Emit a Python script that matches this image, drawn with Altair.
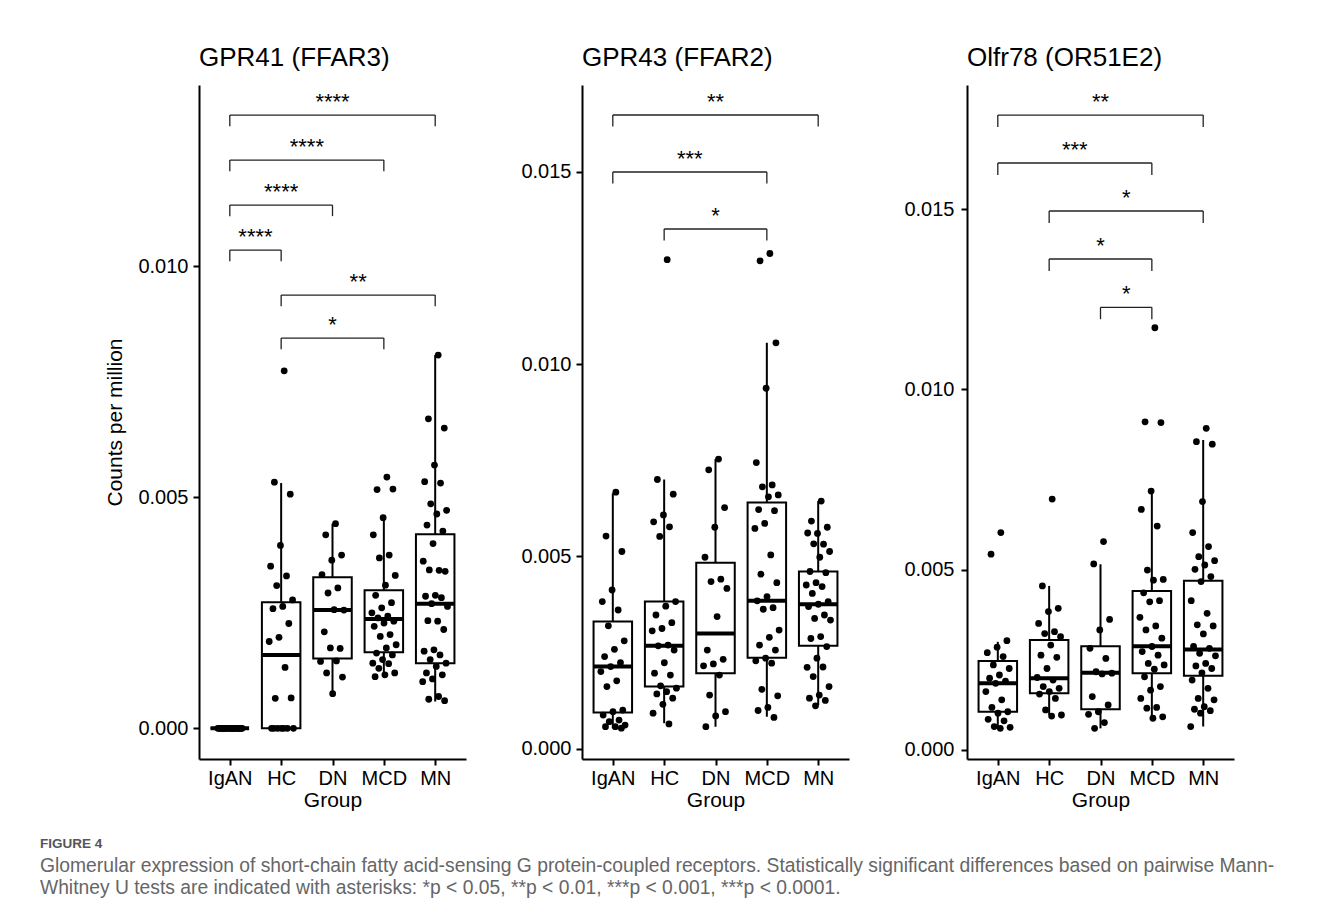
import json
import altair as alt
import pandas as pd

groups = ["IgAN", "HC", "DN", "MCD", "MN"]

# ---------------- GPR41 (FFAR3) ----------------
gpr41_IgAN = [0.0] * 24
gpr41_HC = [0.00774, 0.00533, 0.00507, 0.00396, 0.00351, 0.00330, 0.00309, 0.00278, 0.00264, 0.00259,
            0.00227, 0.00197, 0.00188, 0.00132, 0.00065, 0.00066, 0.0, 0.0, 0.0, 0.0, 0.0, 0.0, 0.0]
gpr41_DN = [0.00443, 0.00419, 0.00375, 0.00364, 0.00333, 0.00304, 0.00293, 0.00256, 0.00257, 0.00209,
            0.00173, 0.00174, 0.00145, 0.00146, 0.00120, 0.00111, 0.00075]
gpr41_MCD = [0.00544, 0.00517, 0.00518, 0.00456, 0.00419, 0.00375, 0.00369, 0.00331, 0.00310, 0.00288,
             0.00272, 0.00261, 0.00250, 0.00243, 0.00239, 0.00232, 0.00228, 0.00221, 0.00203, 0.00199,
             0.00181, 0.00174, 0.00163, 0.00159, 0.00149, 0.00141, 0.00140, 0.00130, 0.00120, 0.00116, 0.00112]
gpr41_MN = [0.00808, 0.00670, 0.00650, 0.00570, 0.00534, 0.00531, 0.00486, 0.00472, 0.00464, 0.00440,
            0.00427, 0.00400, 0.00362, 0.00342, 0.00343, 0.00340, 0.00288, 0.00286, 0.00283, 0.00270,
            0.00264, 0.00232, 0.00233, 0.00214, 0.00170, 0.00167, 0.00159, 0.00149, 0.00141, 0.00134,
            0.00120, 0.00116, 0.00107, 0.00101, 0.00069, 0.00063, 0.00060]
gpr41_q1 = [0.0, 0.0, 0.00151, 0.00165, 0.00141]
gpr41_med = [0.0, 0.00159, 0.00256, 0.00237, 0.00270]
gpr41_q3 = [0.0, 0.00273, 0.00327, 0.00299, 0.00420]
gpr41_lo = [0.0, 0.0, 0.00075, 0.00112, 0.00058]
gpr41_hi = [0.0, 0.00531, 0.00443, 0.00454, 0.00808]
gpr41_g1 = ["IgAN", "IgAN", "IgAN", "IgAN", "HC", "HC"]
gpr41_g2 = ["MN", "MCD", "DN", "HC", "MN", "MCD"]
gpr41_sig = ["****", "****", "****", "****", "**", "*"]
gpr41_brk = [0.013275, 0.012301, 0.011327, 0.010353, 0.009379, 0.008448]
gpr41_tip = 0.00024
gpr41_dom = [-0.000663, 0.013926]
gpr41_ticks = [0.0, 0.005, 0.010]

# ---------------- GPR43 (FFAR2) ----------------
gpr43_IgAN = [0.00667, 0.00553, 0.00513, 0.00413, 0.00383, 0.00361, 0.00320, 0.00281, 0.00259, 0.00240,
              0.00224, 0.00214, 0.00201, 0.00177, 0.00162, 0.00101, 0.00097, 0.00088, 0.00075, 0.00071,
              0.00062, 0.00058, 0.00058, 0.00054]
gpr43_HC = [0.01271, 0.00700, 0.00662, 0.00608, 0.00590, 0.00577, 0.00552, 0.00383, 0.00371, 0.00348,
            0.00328, 0.00313, 0.00307, 0.00270, 0.00268, 0.00257, 0.00224, 0.00197, 0.00192, 0.00164,
            0.00158, 0.00149, 0.00143, 0.00132, 0.00116, 0.00093, 0.00065]
gpr43_DN = [0.00753, 0.00725, 0.00627, 0.00576, 0.00498, 0.00441, 0.00435, 0.00417, 0.00344, 0.00257,
            0.00233, 0.00221, 0.00216, 0.00192, 0.00140, 0.00097, 0.00086, 0.00058]
gpr43_MCD = [0.01287, 0.01268, 0.01055, 0.00937, 0.00744, 0.00686, 0.00681, 0.00660, 0.00655, 0.00622,
             0.00619, 0.00586, 0.00573, 0.00504, 0.00454, 0.00432, 0.00396, 0.00385, 0.00367, 0.00363,
             0.00309, 0.00290, 0.00270, 0.00257, 0.00236, 0.00229, 0.00223, 0.00155, 0.00138, 0.00108,
             0.00100, 0.00082]
gpr43_MN = [0.00644, 0.00592, 0.00576, 0.00560, 0.00561, 0.00532, 0.00533, 0.00513, 0.00498, 0.00461,
            0.00458, 0.00432, 0.00426, 0.00422, 0.00404, 0.00383, 0.00376, 0.00370, 0.00348, 0.00339,
            0.00335, 0.00292, 0.00287, 0.00266, 0.00236, 0.00212, 0.00213, 0.00188, 0.00162, 0.00140,
            0.00132, 0.00126, 0.00112]
gpr43_q1 = [0.00095, 0.00162, 0.00197, 0.00237, 0.00268]
gpr43_med = [0.00214, 0.00268, 0.00300, 0.00385, 0.00376]
gpr43_q3 = [0.00331, 0.00383, 0.00484, 0.00640, 0.00461]
gpr43_lo = [0.00054, 0.00067, 0.00058, 0.00084, 0.00114]
gpr43_hi = [0.00664, 0.00700, 0.00753, 0.01055, 0.00644]
gpr43_g1 = ["IgAN", "IgAN", "HC"]
gpr43_g2 = ["MN", "MCD", "MCD"]
gpr43_sig = ["**", "***", "*"]
gpr43_brk = [0.016468, 0.014987, 0.013506]
gpr43_tip = 0.0003
gpr43_dom = [-0.00026, 0.017247]
gpr43_ticks = [0.0, 0.005, 0.010, 0.015]

# ---------------- Olfr78 (OR51E2) ----------------
olfr78_IgAN = [0.00603, 0.00543, 0.00303, 0.00285, 0.00270, 0.00259, 0.00236, 0.00226, 0.00208, 0.00199,
               0.00191, 0.00185, 0.00162, 0.00139, 0.00118, 0.00106, 0.00102, 0.00085, 0.00081, 0.00065,
               0.00063, 0.00060]
olfr78_HC = [0.00696, 0.00455, 0.00393, 0.00384, 0.00351, 0.00328, 0.00323, 0.00314, 0.00291, 0.00263,
             0.00257, 0.00226, 0.00201, 0.00194, 0.00176, 0.00171, 0.00162, 0.00155, 0.00143, 0.00111,
             0.00097, 0.00094]
olfr78_DN = [0.00578, 0.00516, 0.00362, 0.00333, 0.00282, 0.00254, 0.00217, 0.00213, 0.00211, 0.00148,
             0.00125, 0.00106, 0.00099, 0.00076, 0.00060]
olfr78_MCD = [0.01171, 0.00910, 0.00908, 0.00718, 0.00667, 0.00621, 0.00499, 0.00473, 0.00471, 0.00436,
              0.00414, 0.00411, 0.00368, 0.00344, 0.00333, 0.00310, 0.00287, 0.00273, 0.00263, 0.00240,
              0.00236, 0.00224, 0.00203, 0.00176, 0.00166, 0.00143, 0.00118, 0.00116, 0.00092, 0.00088]
olfr78_MN = [0.00892, 0.00855, 0.00848, 0.00689, 0.00603, 0.00564, 0.00536, 0.00525, 0.00513, 0.00501,
             0.00481, 0.00467, 0.00414, 0.00379, 0.00347, 0.00344, 0.00322, 0.00287, 0.00282, 0.00268,
             0.00261, 0.00240, 0.00233, 0.00226, 0.00214, 0.00194, 0.00171, 0.00143, 0.00139, 0.00120,
             0.00113, 0.00109, 0.00102, 0.00065]
olfr78_q1 = [0.00106, 0.00157, 0.00113, 0.00213, 0.00206]
olfr78_med = [0.00185, 0.00199, 0.00214, 0.00288, 0.00279]
olfr78_q3 = [0.00247, 0.00305, 0.00288, 0.00441, 0.00469]
olfr78_lo = [0.00060, 0.00097, 0.00060, 0.00088, 0.00065]
olfr78_hi = [0.00300, 0.00455, 0.00515, 0.00718, 0.00860]
olfr78_g1 = ["IgAN", "IgAN", "HC", "HC", "DN"]
olfr78_g2 = ["MN", "MCD", "MN", "MCD", "MCD"]
olfr78_sig = ["**", "***", "*", "*", "*"]
olfr78_brk = [0.017609, 0.016279, 0.014947, 0.013616, 0.012277]
olfr78_tip = 0.00033
olfr78_dom = [-0.00025, 0.018442]
olfr78_ticks = [0.0, 0.005, 0.010, 0.015]

caption_head = "FIGURE 4"
caption_lines = [
    "Glomerular expression of short-chain fatty acid-sensing G protein-coupled receptors. Statistically significant differences based on pairwise Mann-",
    "Whitney U tests are indicated with asterisks: *p < 0.05, **p < 0.01, ***p < 0.001, ***p < 0.0001.",
]

FONT = "Liberation Sans"
GARR = json.dumps(groups).replace('"', "'")
IDX = f"indexof({GARR}, datum.Group) + 1"
LABEL_EXPR = f"{GARR}[datum.value - 1]"
PW, PH = 267, 674


def panel(title, pts, q1, med, q3, lo, hi, g1, g2, sig, brk, tip, dom, ticks, ytitle, lpad=5):
    pdf = pd.DataFrame([{"Group": g, "value": v} for g, vals in zip(groups, pts) for v in vals])
    bdf = pd.DataFrame({"Group": groups, "q1": q1, "med": med, "q3": q3, "lo": lo, "hi": hi})
    kdf = pd.DataFrame({"g1": g1, "g2": g2, "label": sig, "y": brk})
    kdf["ytip"] = kdf["y"] - tip

    xs = alt.Scale(domain=[0.4, 5.6], nice=False, zero=False)
    ys = alt.Scale(domain=dom, nice=False, zero=False)
    xax = alt.Axis(values=[1, 2, 3, 4, 5], labelExpr=LABEL_EXPR, title="Group", grid=False,
                   domainColor="black", domainWidth=2, tickColor="black", tickWidth=2, tickSize=6,
                   labelFont=FONT, labelFontSize=20, labelColor="black", labelPadding=3,
                   titleFont=FONT, titleFontSize=21, titleFontWeight="normal", titleColor="black",
                   titlePadding=1)
    yax = alt.Axis(values=ticks, format=".3f", title=ytitle, grid=False,
                   domainColor="black", domainWidth=2, tickColor="black", tickWidth=2, tickSize=6,
                   labelFont=FONT, labelFontSize=20, labelColor="black", labelPadding=lpad,
                   titleFont=FONT, titleFontSize=21, titleFontWeight="normal", titleColor="black",
                   titlePadding=12)

    box_base = alt.Chart(bdf).transform_calculate(idx=IDX).transform_calculate(
        xa="datum.idx - 0.375", xb="datum.idx + 0.375")
    whisk = box_base.mark_rule(color="black", strokeWidth=2).encode(
        x=alt.X("idx:Q", scale=xs, axis=xax), y=alt.Y("lo:Q", scale=ys, axis=yax), y2="hi:Q")
    box = box_base.mark_bar(fill="white", stroke="black", strokeWidth=2).encode(
        x="xa:Q", x2="xb:Q", y="q1:Q", y2="q3:Q")
    medl = box_base.mark_rule(color="black", strokeWidth=4).encode(
        x="xa:Q", x2="xb:Q", y="med:Q")
    points = alt.Chart(pdf).transform_window(
        k="row_number()", groupby=["Group"]).transform_calculate(idx=IDX).transform_calculate(
        jx="datum.idx + (((datum.k * 0.618034) % 1) - 0.5) * 0.5").mark_circle(
        color="black", opacity=1, size=46).encode(x="jx:Q", y="value:Q")

    kb = alt.Chart(kdf).transform_calculate(
        i1=IDX.replace("datum.Group", "datum.g1"), i2=IDX.replace("datum.Group", "datum.g2")
    ).transform_calculate(im="(datum.i1 + datum.i2) / 2")
    hline = kb.mark_rule(color="#222", strokeWidth=1.3).encode(x="i1:Q", x2="i2:Q", y="y:Q")
    ltip = kb.mark_rule(color="#222", strokeWidth=1.3).encode(x="i1:Q", y="y:Q", y2="ytip:Q")
    rtip = kb.mark_rule(color="#222", strokeWidth=1.3).encode(x="i2:Q", y="y:Q", y2="ytip:Q")
    txt = kb.mark_text(font=FONT, fontSize=22, color="black", baseline="alphabetic", dy=-6).encode(
        x="im:Q", y="y:Q", text="label:N")

    return alt.layer(whisk, box, medl, points, hline, ltip, rtip, txt).properties(
        width=PW, height=PH,
        title=alt.TitleParams(title, anchor="start", frame="group", font=FONT, fontSize=26,
                              fontWeight="normal", color="black", baseline="alphabetic", offset=-7))


p1 = panel("GPR41 (FFAR3)", [gpr41_IgAN, gpr41_HC, gpr41_DN, gpr41_MCD, gpr41_MN],
           gpr41_q1, gpr41_med, gpr41_q3, gpr41_lo, gpr41_hi,
           gpr41_g1, gpr41_g2, gpr41_sig, gpr41_brk, gpr41_tip, gpr41_dom, gpr41_ticks,
           "Counts per million")
p2 = panel("GPR43 (FFAR2)", [gpr43_IgAN, gpr43_HC, gpr43_DN, gpr43_MCD, gpr43_MN],
           gpr43_q1, gpr43_med, gpr43_q3, gpr43_lo, gpr43_hi,
           gpr43_g1, gpr43_g2, gpr43_sig, gpr43_brk, gpr43_tip, gpr43_dom, gpr43_ticks, None)
p3 = panel("Olfr78 (OR51E2)", [olfr78_IgAN, olfr78_HC, olfr78_DN, olfr78_MCD, olfr78_MN],
           olfr78_q1, olfr78_med, olfr78_q3, olfr78_lo, olfr78_hi,
           olfr78_g1, olfr78_g2, olfr78_sig, olfr78_brk, olfr78_tip, olfr78_dom, olfr78_ticks, None,
           lpad=7)

chart = alt.hconcat(p1, p2, p3, spacing=54).properties(
    padding={"left": 39, "top": 45, "right": 10, "bottom": 5},
    title=alt.TitleParams(caption_head, subtitle=caption_lines, orient="bottom", anchor="start",
                          frame="bounds", dx=-65, offset=27, font=FONT, fontSize=13.5,
                          fontWeight="bold", color="#555555", subtitleFont=FONT,
                          subtitleFontSize=19.3, subtitleColor="#666666", subtitleLineHeight=22.5,
                          subtitlePadding=6),
).configure(background="white", view=alt.ViewConfig(strokeWidth=0))

chart.save("out.html", embed_options={"renderer": "svg", "actions": False})
